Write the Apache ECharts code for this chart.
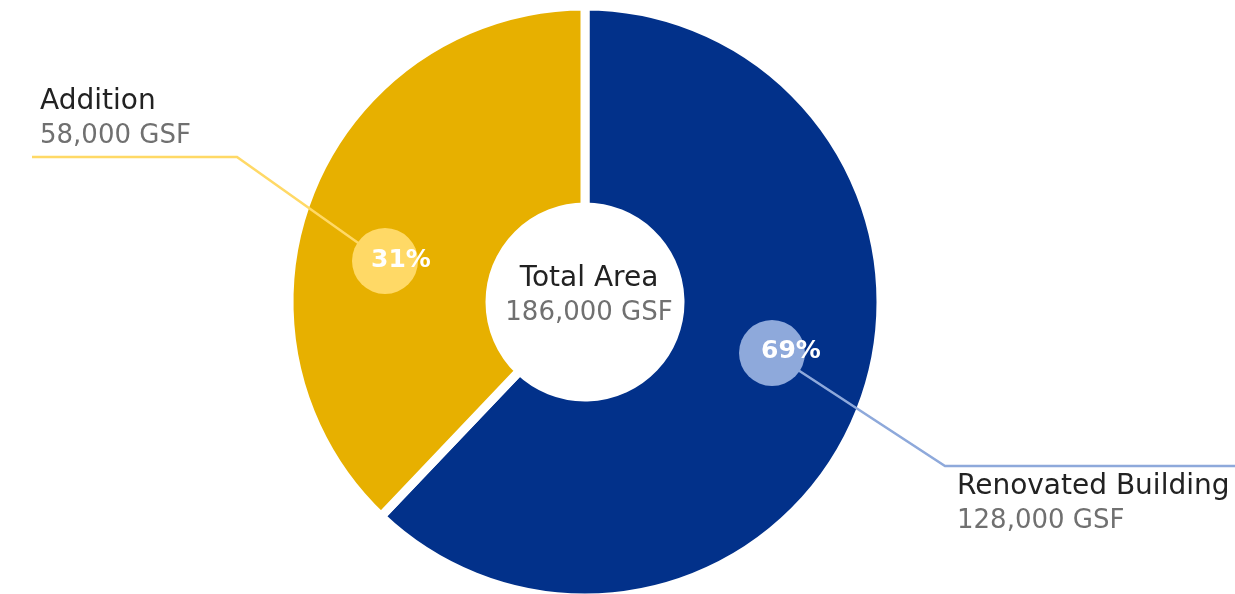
<!DOCTYPE html>
<html><head><meta charset="utf-8">
<script src="https://cdn.jsdelivr.net/npm/echarts@6/dist/echarts.min.js"></script>
<style>html,body{margin:0;padding:0;background:#fff}#c{width:1235px;height:594px}</style>
</head><body><div id="c"></div>
<script>
// ---- data ----
const categories = ['Renovated Building', 'Addition'];
const areaGSF = [128000, 58000];
const percentLabels = ['69%', '31%'];
// slice sizes as they are drawn in the reference (angle shares, %)
const drawnShare = [62.1, 37.9];
const totalLabel = 'Total Area';
const totalGSF = 186000;

// ---- styles ----
const sliceColors = ['#02318A', '#E7B000'];
const accentColors = ['#8EA9DB', '#FFD966'];
const FONT = 'DejaVu Sans';
const fmt = v => v.toLocaleString('en-US') + ' GSF';

const CX = 585, CY = 302;
const RADIUS = [95, 296];
const labelPos = [
  { x: 957, y: 470, line: [[772, 353], [945, 466], [1235, 466]] },
  { x: 40,  y: 85,  line: [[385, 262], [237, 157], [32, 157]] }
];
const bubblePos = [[772, 353], [385, 261]];
const textPos = [[791, 351], [401, 260]];

const chart = echarts.init(document.getElementById('c'), null, { renderer: 'canvas' });

const overlayBase = {
  type: 'pie',
  center: [CX, CY],
  radius: RADIUS,
  startAngle: 90,
  clockwise: true,
  silent: true,
  avoidLabelOverlap: false,
  itemStyle: { color: 'rgba(0,0,0,0)', borderWidth: 0 },
  emphasis: { disabled: true }
};

const option = {
  animation: false,
  backgroundColor: '#ffffff',
  series: [
    {
      type: 'pie',
      z: 2,
      center: [CX, CY],
      radius: RADIUS,
      startAngle: 90,
      clockwise: true,
      avoidLabelOverlap: false,
      silent: true,
      emphasis: { disabled: true },
      itemStyle: { borderColor: '#ffffff', borderWidth: 9 },
      label: { show: false },
      labelLine: { show: false },
      data: categories.map((c, i) => ({
        name: c,
        value: drawnShare[i],
        itemStyle: { color: sliceColors[i] }
      }))
    },
    Object.assign({}, overlayBase, {
      z: 4,
      label: {
        show: true,
        position: 'outside',
        formatter: p => '{n|' + p.name + '}\n{g|' + fmt(areaGSF[p.dataIndex]) + '}',
        rich: {
          n: { fontFamily: FONT, fontSize: 28, color: '#222222', lineHeight: 34 },
          g: { fontFamily: FONT, fontSize: 26, color: '#707070', lineHeight: 34 }
        }
      },
      labelLine: { show: true, smooth: false, lineStyle: { width: 2.5 } },
      labelLayout: p => {
        const L = labelPos[p.dataIndex];
        return { x: L.x, y: L.y, align: 'left', verticalAlign: 'top', labelLinePoints: L.line };
      },
      data: categories.map((c, i) => ({
        name: c,
        value: drawnShare[i],
        labelLine: { lineStyle: { color: accentColors[i], width: 2.5 } }
      }))
    }),
    Object.assign({}, overlayBase, {
      z: 5,
      labelLine: { show: false },
      label: {
        show: true,
        position: 'inside',
        formatter: '{c| }',
        rich: { c: { width: 66, height: 66 } },
        borderRadius: 33,
        padding: 0
      },
      labelLayout: p => ({ x: bubblePos[p.dataIndex][0], y: bubblePos[p.dataIndex][1], align: 'center', verticalAlign: 'middle' }),
      data: categories.map((c, i) => ({
        name: c,
        value: drawnShare[i],
        label: { backgroundColor: accentColors[i] }
      }))
    }),
    Object.assign({}, overlayBase, {
      z: 6,
      labelLine: { show: false },
      label: {
        show: true,
        position: 'inside',
        formatter: p => percentLabels[p.dataIndex],
        fontFamily: FONT,
        fontWeight: 'bold',
        fontSize: 25,
        color: '#ffffff'
      },
      labelLayout: p => ({ x: textPos[p.dataIndex][0], y: textPos[p.dataIndex][1], align: 'center', verticalAlign: 'middle' }),
      data: categories.map((c, i) => ({ name: c, value: drawnShare[i] }))
    })
  ],
  graphic: [
    {
      type: 'text',
      x: 589,
      y: 261,
      z: 10,
      style: {
        text: '{a|' + totalLabel + '}\n{b|' + fmt(totalGSF) + '}',
        textAlign: 'center',
        align: 'center',
        rich: {
          a: { fontFamily: FONT, fontSize: 28, fill: '#222222', color: '#222222', lineHeight: 35, align: 'center' },
          b: { fontFamily: FONT, fontSize: 26, fill: '#707070', color: '#707070', lineHeight: 35, align: 'center' }
        }
      }
    }
  ]
};
chart.setOption(option);
</script>
</body></html>
